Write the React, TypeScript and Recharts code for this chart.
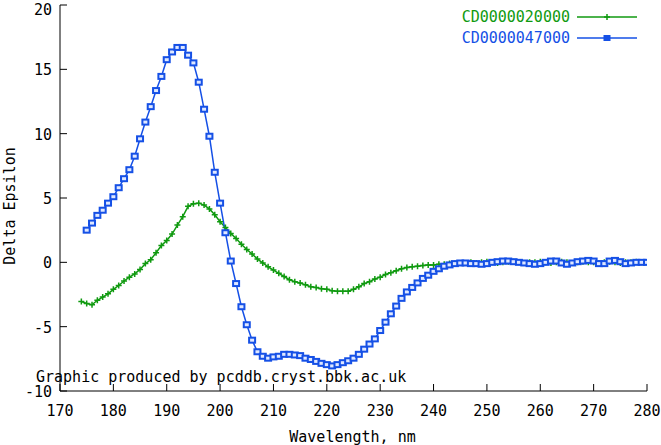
import React from "react";
import { LineChart, Line, XAxis, YAxis, Legend } from "recharts";

const GREEN = "#109a10";
const BLUE = "#1550e6";
const FONT = "'DejaVu Sans Mono', monospace";

const seriesNames = ["CD0000020000", "CD0000047000"];
const xTicks = [170, 180, 190, 200, 210, 220, 230, 240, 250, 260, 270, 280];
const yTicks = [-10, -5, 0, 5, 10, 15, 20];

// CD0000020000, 174..280 nm
const greenStart = 174;
const greenValues = [
  -3.05, -3.2, -3.3, -2.95, -2.7, -2.45, -2.1, -1.8, -1.45, -1.15,
  -0.9, -0.55, -0.1, 0.2, 0.75, 1.3, 1.7, 2.2, 2.9, 3.55,
  4.35, 4.55, 4.6, 4.45, 4.15, 3.7, 3.15, 2.7, 2.25, 1.85,
  1.4, 1.0, 0.65, 0.25, -0.05, -0.35, -0.6, -0.85, -1.1, -1.35,
  -1.5, -1.6, -1.75, -1.9, -1.95, -2.05, -2.1, -2.2, -2.25, -2.25,
  -2.25, -2.1, -1.9, -1.65, -1.5, -1.3, -1.15, -0.95, -0.8, -0.65,
  -0.5, -0.4, -0.35, -0.3, -0.25, -0.2, -0.2, -0.15, -0.15, -0.1,
  -0.1, -0.05,
  -0.05, 0, -0.05, 0, 0.05, 0, -0.05, 0, 0.05, 0.05,
  0, -0.05, 0, 0, 0.05, 0, -0.05, 0, 0.05, 0,
  -0.05, 0, 0.05, 0, 0, -0.05, 0, 0.05, 0, -0.05,
  0, 0, 0.05, 0, 0,
];

// CD0000047000, 175..280 nm
const blueStart = 175;
const blueValues = [
  2.5, 3.05, 3.65, 4.05, 4.6, 5.1, 5.8, 6.5, 7.2, 8.25,
  9.6, 10.9, 12.1, 13.35, 14.45, 15.75, 16.35, 16.7, 16.7, 16.1,
  15.5, 14.0, 11.9, 9.8, 7.0, 4.6, 2.3, 0.1, -1.65, -3.45,
  -4.85, -6.05, -6.95, -7.3, -7.45, -7.35, -7.3, -7.15, -7.15, -7.2,
  -7.25, -7.45, -7.55, -7.7, -7.85, -7.95, -8.05, -7.95, -7.8, -7.65,
  -7.45, -7.15, -6.75, -6.35, -5.95, -5.3, -4.65, -4.0, -3.4, -2.8,
  -2.3, -1.95, -1.6, -1.25, -1.0, -0.7, -0.5, -0.3, -0.2, -0.1,
  -0.05, -0.05, -0.1, -0.1, -0.15, -0.1, 0.0, 0.05, 0.1, 0.1,
  0.05, 0.0, -0.05, -0.1, -0.15, -0.1, 0.0, 0.1, 0.1, -0.05,
  -0.15, -0.05, 0.05, 0.1, 0.15, 0.1, -0.1, -0.1, 0.1, 0.15,
  0.05, -0.1, -0.05, 0.0, 0.0, 0.0,
];

const data = greenValues.map((g, i) => {
  const wl = greenStart + i;
  const bi = wl - blueStart;
  return { wl, green: g, blue: bi >= 0 ? blueValues[bi] : null };
});

const textStyle = { fontFamily: FONT, fontSize: 15, fill: "#000" };

const BottomTick = (p: any) => (
  <g>
    <line x1={p.x} x2={p.x} y1={p.y} y2={p.y - 7} stroke="#000" />
    <text x={p.x} y={p.y + 25} textAnchor="middle" style={textStyle}>
      {p.payload.value}
    </text>
  </g>
);

const TopTick = (p: any) => (
  <line x1={p.x} x2={p.x} y1={p.y} y2={p.y + 7} stroke="#000" />
);

const LeftTick = (p: any) => (
  <g>
    <line x1={p.x} x2={p.x + 7} y1={p.y} y2={p.y} stroke="#000" />
    <text x={p.x - 8} y={Math.max(p.y + 6, 15)} textAnchor="end" style={textStyle}>
      {p.payload.value}
    </text>
  </g>
);

const RightTick = (p: any) => (
  <line x1={p.x} x2={p.x - 7} y1={p.y} y2={p.y} stroke="#000" />
);

const BoxDot = (p: any) => {
  if (p.cx == null || p.cy == null || p.value == null) return <g key={p.index} />;
  return (
    <rect
      key={p.index}
      x={p.cx - 3}
      y={p.cy - 2.5}
      width={6}
      height={5}
      fill="#dfe8ff"
      stroke={BLUE}
      strokeWidth={2}
    />
  );
};

const CrossDot = (p: any) => {
  if (p.cx == null || p.cy == null) return <g key={p.index} />;
  return (
    <path
      key={p.index}
      d={`M${p.cx - 3},${p.cy}h6M${p.cx},${p.cy - 3}v6`}
      stroke={GREEN}
      strokeWidth={1.5}
    />
  );
};

const LegendBox = () => (
  <svg width={210} height={48}>
    {seriesNames.map((name, i) => {
      const y = 10 + i * 21;
      const color = i === 0 ? GREEN : BLUE;
      return (
        <g key={name}>
          <text x={130} y={y + 5} textAnchor="end" style={{ ...textStyle, fill: color }}>
            {name}
          </text>
          <line x1={137} x2={197} y1={y} y2={y} stroke={color} strokeWidth={1.5} />
          {i === 0 ? (
            <path d={`M164,${y}h6M167,${y - 3}v6`} stroke={color} strokeWidth={1.5} />
          ) : (
            <rect x={164} y={y - 2.5} width={6} height={5} fill={color} stroke={color} />
          )}
        </g>
      );
    })}
  </svg>
);

export default function App() {
  return (
    <div style={{ position: "absolute", left: 0, top: 0, width: 661, height: 445, background: "#fff" }}>
      <LineChart width={661} height={445} data={data} margin={{ top: 5, right: 14, bottom: 0, left: 0 }}>
        <XAxis
          dataKey="wl"
          type="number"
          domain={[170, 280]}
          ticks={xTicks}
          interval={0}
          height={54}
          tickSize={0}
          tickMargin={0}
          tickLine={false}
          tick={BottomTick}
          axisLine={{ stroke: "#000" }}
          allowDataOverflow
        />
        <XAxis
          xAxisId="top"
          orientation="top"
          dataKey="wl"
          type="number"
          domain={[170, 280]}
          ticks={xTicks}
          interval={0}
          height={0}
          tickSize={0}
          tickMargin={0}
          tickLine={false}
          tick={TopTick}
          axisLine={{ stroke: "#000" }}
          allowDataOverflow
        />
        <YAxis
          type="number"
          domain={[-10, 20]}
          ticks={yTicks}
          interval={0}
          width={60}
          tickSize={0}
          tickMargin={0}
          tickLine={false}
          tick={LeftTick}
          axisLine={{ stroke: "#000" }}
          allowDataOverflow
        />
        <YAxis
          yAxisId="r"
          orientation="right"
          type="number"
          domain={[-10, 20]}
          ticks={yTicks}
          interval={0}
          width={0}
          tickSize={0}
          tickMargin={0}
          tickLine={false}
          tick={RightTick}
          axisLine={{ stroke: "#000" }}
          allowDataOverflow
        />
        <Legend
          layout="horizontal"
          verticalAlign="middle"
          align="center"
          content={LegendBox}
          wrapperStyle={{ position: "absolute", left: 440, top: 7, width: 210, height: 48 }}
        />
        <Line
          type="linear"
          dataKey="green"
          name={seriesNames[0]}
          stroke={GREEN}
          strokeWidth={1.5}
          dot={CrossDot}
          isAnimationActive={false}
        />
        <Line
          type="linear"
          dataKey="blue"
          name={seriesNames[1]}
          stroke={BLUE}
          strokeWidth={1.5}
          dot={BoxDot}
          isAnimationActive={false}
        />
      </LineChart>
      <div
        style={{
          position: "absolute",
          left: 36,
          top: 368,
          fontFamily: FONT,
          fontSize: 15,
          color: "#000",
          whiteSpace: "nowrap",
        }}
      >
        Graphic produced by pcddb.cryst.bbk.ac.uk
      </div>
      <div
        style={{
          position: "absolute",
          left: 0,
          width: 661,
          top: 428,
          textAlign: "center",
          paddingLeft: 44,
          boxSizing: "border-box",
          fontFamily: FONT,
          fontSize: 15,
          color: "#000",
        }}
      >
        Wavelength, nm
      </div>
      <div
        style={{
          position: "absolute",
          left: 10,
          top: 206,
          transform: "translate(-50%, -50%) rotate(-90deg)",
          fontFamily: FONT,
          fontSize: 15,
          color: "#000",
          whiteSpace: "nowrap",
        }}
      >
        Delta Epsilon
      </div>
    </div>
  );
}
